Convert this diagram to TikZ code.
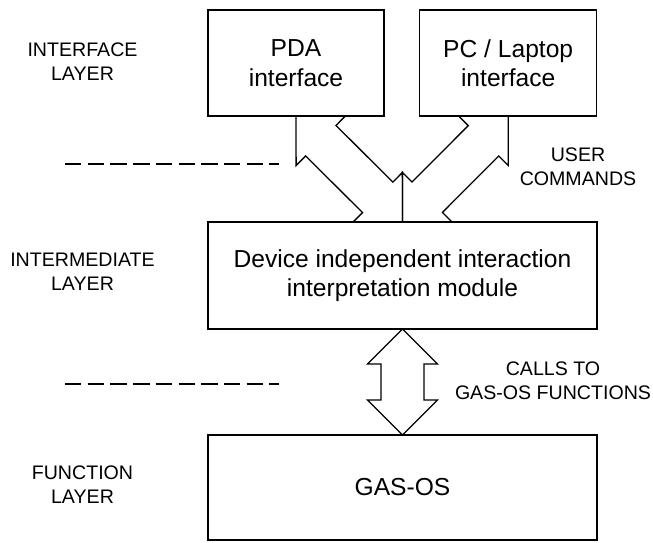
\documentclass[tikz,border=0pt]{standalone}
\usepackage{fontspec}
\setmainfont{Liberation Sans}
\usetikzlibrary{calc}

% geometry of the hollow double-headed block arrows
\newcommand\headlen{35pt}
\newcommand\headhalf{35pt}
\newcommand\shafthalf{21.5pt}

% #1 = name prefix, #2 = first tip, #3 = second tip
\newcommand\dblockarrow[3]{%
  \coordinate (#1-ha) at ($(#2)!\headlen!(#3)$);
  \coordinate (#1-hb) at ($(#3)!\headlen!(#2)$);
  \draw[blockarrow] (#2)
    -- ($(#1-ha)!\headhalf!90:(#3)$)
    -- ($(#1-ha)!\shafthalf!90:(#3)$)
    -- ($(#1-hb)!\shafthalf!-90:(#2)$)
    -- ($(#1-hb)!\headhalf!-90:(#2)$)
    -- (#3)
    -- ($(#1-hb)!\headhalf!90:(#2)$)
    -- ($(#1-hb)!\shafthalf!90:(#2)$)
    -- ($(#1-ha)!\shafthalf!-90:(#3)$)
    -- ($(#1-ha)!\headhalf!-90:(#3)$)
    -- cycle;}

\begin{document}
\begin{tikzpicture}[x=1pt,y=-1pt,
  box/.style={draw, line width=1.4pt, inner sep=0pt, outer sep=0pt,
    align=center, font=\fontsize{24.6}{29.5}\selectfont},
  layer/.style={inner sep=0pt, align=center, font=\fontsize{19.6}{24}\selectfont},
  blockarrow/.style={draw, line width=1.3pt, line join=miter},
  divider/.style={line width=2pt, dash pattern=on 16.4pt off 6.3pt}]
\useasboundingbox (0,0) rectangle (653,542);

% layer captions
\node[layer] (lint) at (82.5,61.3) {INTERFACE\\LAYER};
\node[layer] (lmid) at (82.5,271.3) {INTERMEDIATE\\LAYER};
\node[layer] (lfun) at (82.5,484.5) {FUNCTION\\LAYER};

% modules
\node[box, minimum width=176pt, minimum height=106pt] (pda) at (296,63) {PDA\\interface};
\node[box, minimum width=177pt, minimum height=106pt] (pc) at (508.2,63) {PC / Laptop\\interface};
\node[box, minimum width=389pt, minimum height=107pt] (mid) at (402.5,275.5)
  {Device independent interaction\\interpretation module};
\node[box, minimum width=389pt, minimum height=105pt] (gas) at (402.5,487.5) {GAS-OS};

% interfaces between layers
\dblockarrow{la}{pda.south}{mid.north}
\dblockarrow{ra}{pc.south}{mid.north}
\dblockarrow{va}{mid.south}{gas.north}

% arrow captions
\node[layer] (cmds) at (578,167.2) {USER\\COMMANDS};
\node[layer] (calls) at (553,380.5) {CALLS TO\\GAS-OS FUNCTIONS};

% layer separators
\coordinate (d1a) at (65,163.5);
\coordinate (d1b) at (279,163.5);
\coordinate (d2a) at (65,383.5);
\coordinate (d2b) at (279,383.5);
\draw[divider] (d1a) -- (d1b);
\draw[divider] (d2a) -- (d2b);
\end{tikzpicture}
\end{document}
